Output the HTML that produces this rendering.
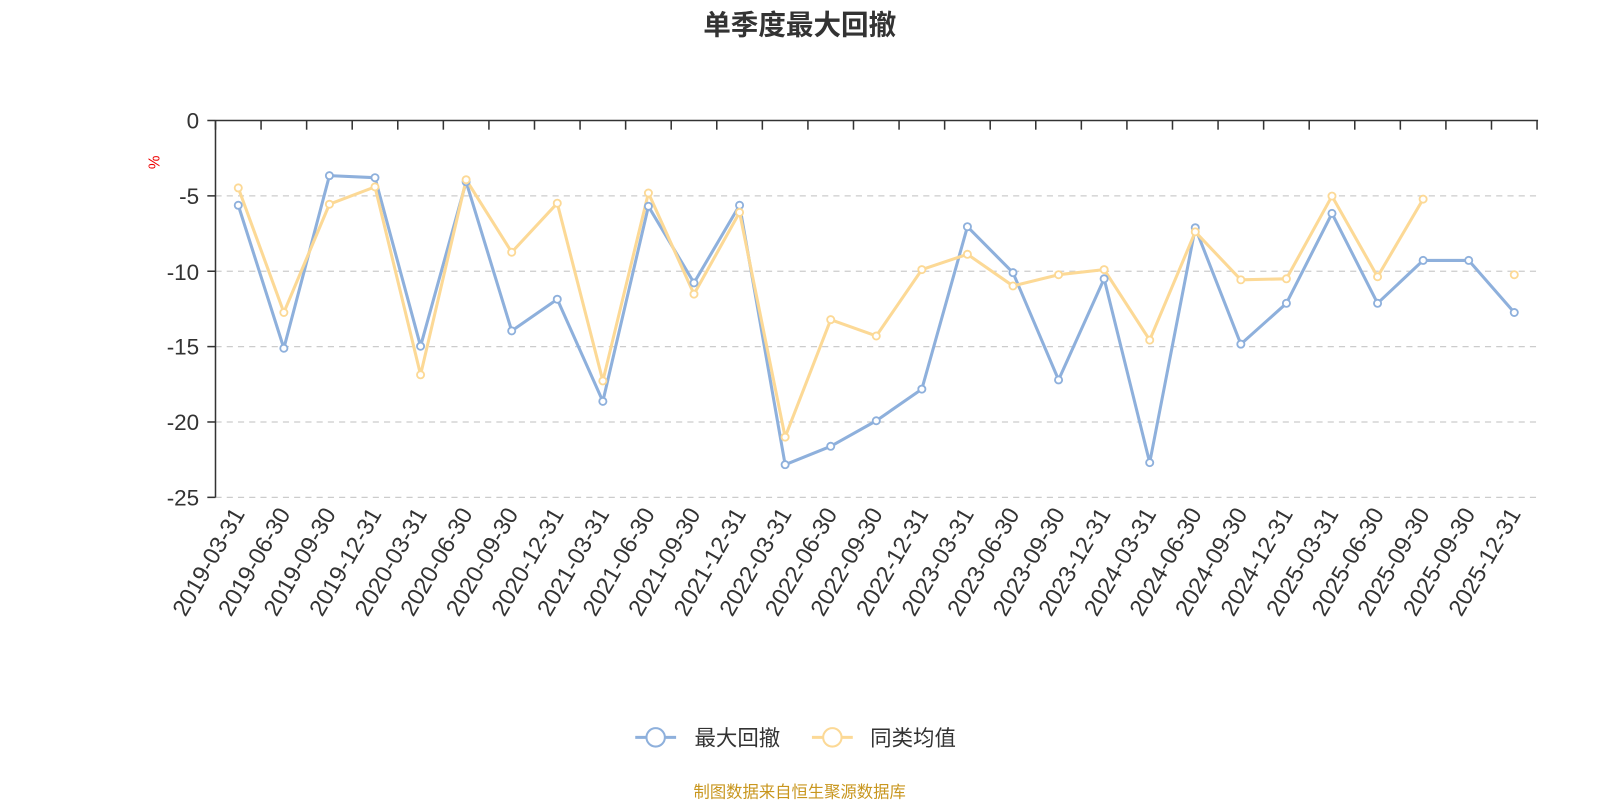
<!DOCTYPE html>
<html><head><meta charset="utf-8"><style>
html,body{margin:0;padding:0;background:#fff;overflow:hidden;width:1600px;height:800px;}
svg{display:block;}
svg text{font-family:"Liberation Sans","Noto Sans CJK SC",sans-serif;}
</style></head><body>
<svg width="1600" height="800" viewBox="0 0 1600 800" xmlns="http://www.w3.org/2000/svg">
<rect width="1600" height="800" fill="#fff"/>
<g transform="translate(0,1) scale(1.0213)">
<text x="783" y="33" text-anchor="middle" font-size="27" font-weight="bold" fill="#333">单季度最大回撤</text>
<text x="0" y="0" transform="translate(156,158) rotate(-90)" text-anchor="middle" font-size="15" fill="#e00">%</text>
<g stroke="#ccc" stroke-width="1.2" stroke-dasharray="6,5">
<line x1="211" x2="1505" y1="190.8" y2="190.8"/>
<line x1="211" x2="1505" y1="264.6" y2="264.6"/>
<line x1="211" x2="1505" y1="338.4" y2="338.4"/>
<line x1="211" x2="1505" y1="412.2" y2="412.2"/>
<line x1="211" x2="1505" y1="486" y2="486"/>
</g>
<g stroke="#333" stroke-width="1.5">
<line x1="211" x2="1506" y1="117" y2="117"/>
<line x1="211" x2="211" y1="117" y2="486"/>
<line x1="203" x2="211" y1="117" y2="117"/>
<line x1="203" x2="211" y1="190.8" y2="190.8"/>
<line x1="203" x2="211" y1="264.6" y2="264.6"/>
<line x1="203" x2="211" y1="338.4" y2="338.4"/>
<line x1="203" x2="211" y1="412.2" y2="412.2"/>
<line x1="203" x2="211" y1="486" y2="486"/>
</g>
<g id="xt" stroke="#333" stroke-width="1.5"></g>
<g font-size="22" fill="#333" text-anchor="end">
<text x="195" y="125">0</text>
<text x="195" y="199">-5</text>
<text x="195" y="273">-10</text>
<text x="195" y="346">-15</text>
<text x="195" y="420">-20</text>
<text x="195" y="494">-25</text>
</g>
<g id="xl" font-size="23" fill="#333" text-anchor="end"></g>
<polyline id="pb" fill="none" stroke="#8eb0dc" stroke-width="3" stroke-linejoin="round"/>
<polyline id="py" fill="none" stroke="#fcd996" stroke-width="3" stroke-linejoin="round"/>
<g id="cb"></g><g id="cy"></g>
<line x1="622" x2="662" y1="721" y2="721" stroke="#8eb0dc" stroke-width="3"/>
<circle cx="642" cy="721" r="9" fill="#fff" stroke="#8eb0dc" stroke-width="2"/>
<text x="680" y="729" font-size="21" fill="#333">最大回撤</text>
<line x1="795" x2="835" y1="721" y2="721" stroke="#fcd996" stroke-width="3"/>
<circle cx="815" cy="721" r="9" fill="#fff" stroke="#fcd996" stroke-width="2"/>
<text x="852" y="729" font-size="21" fill="#333">同类均值</text>
<text x="783" y="780" text-anchor="middle" font-size="16" fill="#c8961e">制图数据来自恒生聚源数据库</text>
</g>
</svg>
<script>
var labels=["2019-03-31","2019-06-30","2019-09-30","2019-12-31","2020-03-31","2020-06-30","2020-09-30","2020-12-31","2021-03-31","2021-06-30","2021-09-30","2021-12-31","2022-03-31","2022-06-30","2022-09-30","2022-12-31","2023-03-31","2023-06-30","2023-09-30","2023-12-31","2024-03-31","2024-06-30","2024-09-30","2024-12-31","2025-03-31","2025-06-30","2025-09-30","2025-09-30","2025-12-31"];
var B=[200,340,171,173,338,177,323,292,392,201,276,200,454,436,411,380,221,266,371,272,452,222,336,296,208,296,254,254,305];
var Y=[183,305,199,182,366,175,246,198,372,188,287,207,427,312,328,263,248,279,268,263,332,226,273,272,191,270,194,null,268];
var ns="http://www.w3.org/2000/svg",w=1294/29;
function el(t,a,p){var e=document.createElementNS(ns,t);for(var k in a)e.setAttribute(k,a[k]);document.getElementById(p).appendChild(e);return e;}
for(var k=0;k<=29;k++){var x=211+w*k;el("line",{x1:x,x2:x,y1:117,y2:126},"xt");}
var pb=[],py=[];
for(var i=0;i<29;i++){var x=211+w*(i+0.5);
var t=el("text",{transform:"translate("+(x+7)+",502) rotate(-60)"},"xl");t.textContent=labels[i];
pb.push(x+","+B[i]);el("circle",{cx:x,cy:B[i],r:3.5,fill:"#fff",stroke:"#8eb0dc","stroke-width":1.8},"cb");
if(Y[i]!==null){if(i<27)py.push(x+","+Y[i]);el("circle",{cx:x,cy:Y[i],r:3.5,fill:"#fff",stroke:"#fcd996","stroke-width":1.8},"cy");}}
document.getElementById("pb").setAttribute("points",pb.join(" "));
document.getElementById("py").setAttribute("points",py.join(" "));
</script>
</body></html>
